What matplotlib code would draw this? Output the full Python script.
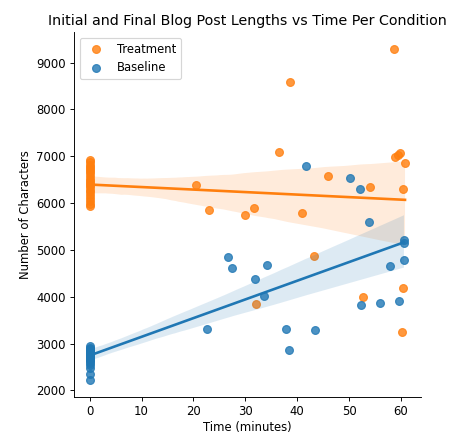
import matplotlib
matplotlib.use("Agg")
import matplotlib.pyplot as plt
import numpy as np
import seaborn as sns

# Treatment condition: time (minutes) and blog post length (characters)
treat_time = [0] * 20 + [58.6, 38.6, 36.5, 20.5, 23.0, 30.0, 31.6, 41.0, 46.0, 54.0,
                         58.8, 59.4, 59.8, 60.8, 60.5, 43.2, 32.1, 52.7, 60.5, 60.2]
treat_len = [6930, 6880, 6820, 6780, 6730, 6680, 6640, 6580, 6520, 6470,
             6430, 6380, 6340, 6290, 6230, 6170, 6100, 6040, 5990, 5945,
             9299, 8582, 7092, 6384, 5852, 5745, 5888, 5788, 6581, 6348,
             6986, 7037, 7071, 6858, 6292, 4873, 3845, 3994, 4192, 3241]

# Baseline condition
base_time = [0] * 20 + [41.7, 50.1, 52.1, 53.9, 60.6, 60.6, 60.6, 57.9, 26.6, 27.5,
                        34.1, 31.8, 33.6, 22.7, 37.9, 38.5, 43.5, 52.3, 56.0, 59.7]
base_len = [2943, 2910, 2880, 2860, 2840, 2820, 2800, 2780, 2760, 2740,
            2720, 2700, 2680, 2650, 2620, 2580, 2540, 2480, 2360, 2213,
            6788, 6526, 6292, 5603, 5213, 5143, 4794, 4666, 4852, 4611,
            4681, 4377, 4007, 3319, 3319, 2866, 3298, 3830, 3873, 3900]

labels = ["Treatment", "Baseline"]
title = "Initial and Final Blog Post Lengths vs Time Per Condition"

dpi = 84
fig = plt.figure(figsize=(451 / dpi, 433 / dpi), dpi=dpi)
ax = fig.add_axes([0.164, 0.083, 0.769, 0.843])

sns.regplot(x=np.array(treat_time), y=np.array(treat_len), ax=ax, color="C1",
            label=labels[0], seed=3, scatter_kws={"s": 45})
sns.regplot(x=np.array(base_time), y=np.array(base_len), ax=ax, color="C0",
            label=labels[1], seed=3, scatter_kws={"s": 45})

ax.spines["top"].set_visible(False)
ax.spines["right"].set_visible(False)
ax.set_xlabel("Time (minutes)", labelpad=2)
ax.set_ylabel("Number of Characters")
ax.set_title(title, fontsize=12.2)
ax.legend(loc="upper left")

fig.savefig("out.png", dpi=dpi)
